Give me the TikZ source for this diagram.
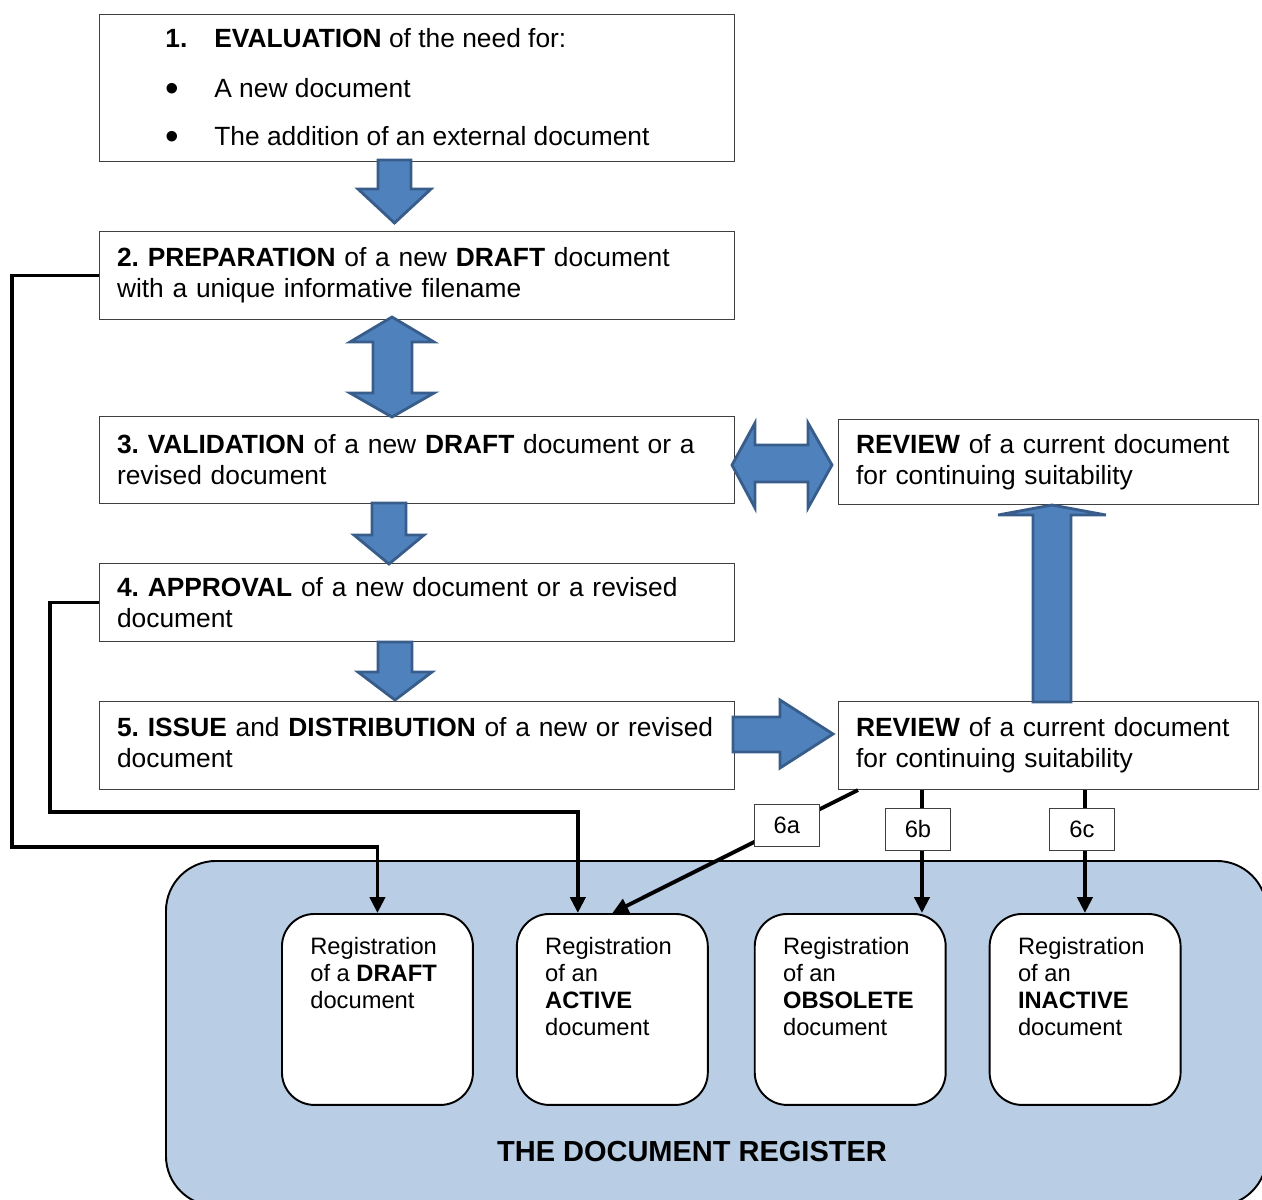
\documentclass[tikz,border=0pt]{standalone}
\usepackage{fontspec}
\setmainfont{Liberation Sans}
\usetikzlibrary{arrows.meta,positioning,calc}
\definecolor{regblue}{HTML}{B9CDE5}
\definecolor{arrowfill}{HTML}{4F81BD}
\definecolor{arrowline}{HTML}{385D8A}
\frenchspacing

\begin{document}
\begin{tikzpicture}[x=0.02cm,y=-0.02cm,node distance=0.84cm,
  stage/.style={draw=black!75,line width=0.6pt,anchor=north west,minimum width=12.7cm,
    text width=12cm,inner xsep=0.35cm,inner ysep=0pt,align=left,
    font=\fontsize{15}{17.6}\selectfont},
  review/.style={stage,minimum width=8.4cm,text width=7.7cm},
  line1/.style={anchor=base west,inner sep=0pt,font=\fontsize{15}{17.6}\selectfont},
  dot/.style={inner sep=0pt,font=\fontsize{22}{22}\selectfont},
  regbox/.style={draw,fill=white,line width=1.1pt,rounded corners=0.65cm,
    minimum width=3.82cm,minimum height=3.82cm,inner sep=0pt},
  regtext/.style={anchor=north west,inner sep=0pt,align=left,
    font=\fontsize{13.5}{15.3}\selectfont},
  bigarrow/.style={fill=arrowfill,draw=arrowline,line width=1.6pt},
  flow/.style={draw,line width=2.2pt,-{Triangle[length=9pt,width=8.5pt]}},
  tag/.style={draw=black!75,fill=white,line width=0.6pt,minimum width=1.3cm,
    minimum height=0.84cm,inner sep=0pt,font=\fontsize{13.5}{15}\selectfont}]

\clip (0,0) rectangle (1262,1200);

% the register
\node[draw,line width=1.1pt,fill=regblue,rounded corners=1cm,anchor=north west,
  minimum width=22.02cm,minimum height=6.9cm,inner sep=0pt] (register) at (165,860) {};
\node[font=\bfseries\fontsize{16.5}{18}\selectfont] (regtitle) at (692,1152) {THE DOCUMENT REGISTER};

\node[regbox,anchor=north west] (regdraft) at (281,913) {};
\node[regbox,right=of regdraft] (regactive) {};
\node[regbox,right=0.9cm of regactive] (regobs) {};
\node[regbox,right=of regobs] (reginact) {};

\node[regtext] (tdraft) at ([shift={(0.58cm,-0.48cm)}]regdraft.north west) {Registration\\of a \textbf{DRAFT}\\document};
\node[regtext] (tactive) at ([shift={(0.58cm,-0.48cm)}]regactive.north west) {Registration\\of an\\\textbf{ACTIVE}\\document};
\node[regtext] (tobs) at ([shift={(0.58cm,-0.48cm)}]regobs.north west) {Registration\\of an\\\textbf{OBSOLETE}\\document};
\node[regtext] (tinact) at ([shift={(0.58cm,-0.48cm)}]reginact.north west) {Registration\\of an\\\textbf{INACTIVE}\\document};

% the stages
\node[stage,minimum height=2.94cm] (eval) at (99,14) {};
\node[line1] (n1) at (165,48) {\textbf{1.}};
\node[line1] (t1) at (214,48) {\textbf{EVALUATION} of the need for:};
\node[dot] (b1) at (172,92) {•};
\node[line1] (t2) at (214,97) {A new document};
\node[dot] (b2) at (172,140) {•};
\node[line1] (t3) at (214,145) {The addition of an external document};

\node[stage,minimum height=1.76cm] (prep) at (99,231) {\textbf{2. PREPARATION} of a new \textbf{DRAFT} document\\with a unique informative filename};
\node[stage,minimum height=1.74cm] (valid) at (99,416) {\textbf{3. VALIDATION} of a new \textbf{DRAFT} document or a\\revised document};
\node[stage,minimum height=1.56cm] (appr) at (99,563) {\textbf{4. APPROVAL} of a new document or a revised\\document};
\node[stage,minimum height=1.76cm] (issue) at (99,701) {\textbf{5. ISSUE} and \textbf{DISTRIBUTION} of a new or revised\\document\vphantom{q}};

\node[review,minimum height=1.7cm] (revA) at (838,419) {\textbf{REVIEW} of a current document\\for continuing suitability};
\node[review,minimum height=1.76cm] (revB) at (838,701) {\textbf{REVIEW} of a current document\\for continuing suitability};

% block arrows
\draw[bigarrow] (378,160) -- (411,160) -- (411,189) -- (431,189) -- (394.5,223) -- (358,189) -- (378,189) -- cycle;
\draw[bigarrow] (392,317) -- (434,342) -- (412,342) -- (412,393) -- (434,393) -- (392,417) -- (350,393) -- (373,393) -- (373,342) -- (350,342) -- cycle;
\draw[bigarrow] (372,503) -- (406,503) -- (406,535) -- (424,535) -- (389,564) -- (354,535) -- (372,535) -- cycle;
\draw[bigarrow] (378,642) -- (412,642) -- (412,672) -- (432,672) -- (395,700) -- (358,672) -- (378,672) -- cycle;
\draw[bigarrow] (732,465) -- (755,423) -- (755,445) -- (808,445) -- (808,423) -- (832,465) -- (808,508) -- (808,482) -- (755,482) -- (755,508) -- cycle;
\draw[bigarrow] (733,717) -- (780,717) -- (780,700) -- (833,734) -- (780,768) -- (780,752) -- (733,752) -- cycle;
\draw[bigarrow] (1033,702) -- (1033,515) -- (998,515) -- (1052,505) -- (1106,515) -- (1071,515) -- (1071,702) -- cycle;

% connectors
\coordinate (bendA) at (12,847);
\coordinate (bendB) at (50,812);
\coordinate (t6b) at ([xshift=1.68cm]revB.south west);
\coordinate (t6c) at ([xshift=4.94cm]revB.south west);

\draw[flow] (prep.west) -| (bendA) -| (regdraft.north);
\draw[flow] (appr.west) -| (bendB) -| ([xshift=-0.69cm]regactive.north);
\draw[flow] ([xshift=0.4cm]revB.south west) -- node[tag,pos=0.29] {6a} (regactive.north);
\draw[flow] (t6b) -- node[tag,pos=0.32,xshift=-0.08cm] {6b} (t6b |- regobs.north);
\draw[flow] (t6c) -- node[tag,pos=0.32,xshift=-0.06cm] {6c} (t6c |- reginact.north);
\end{tikzpicture}
\end{document}
